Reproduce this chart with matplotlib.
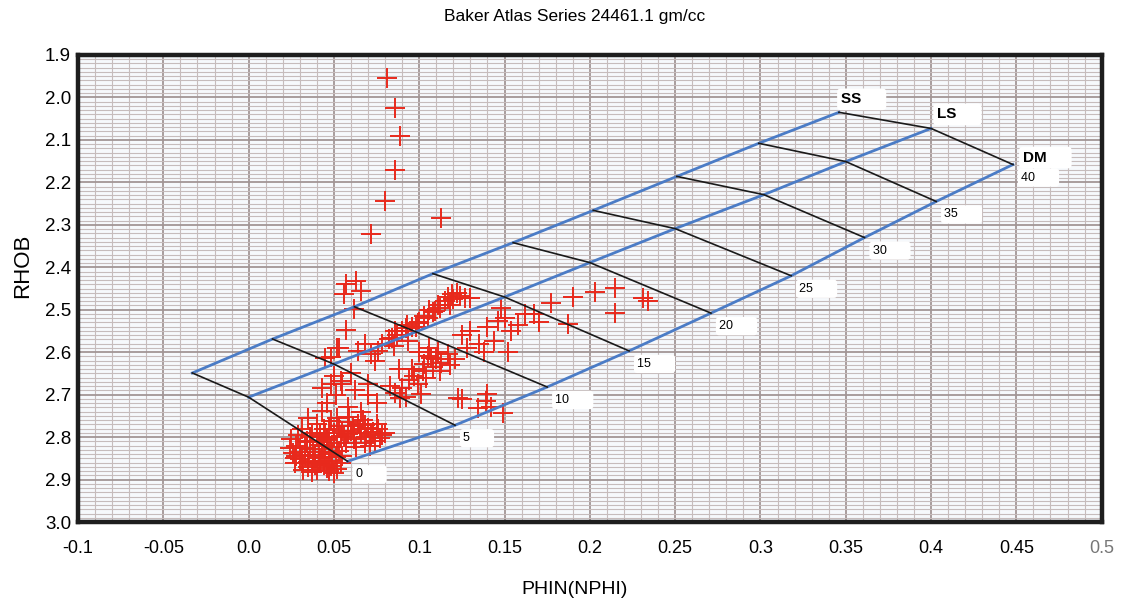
import matplotlib
matplotlib.use("Agg")
import matplotlib.pyplot as plt
from matplotlib.ticker import MultipleLocator

plt.rcParams["font.family"] = ["Liberation Sans", "DejaVu Sans"]

# Baker Atlas chart, fluid density 1.1 gm/cc
porosity = [0, 5, 10, 15, 20, 25, 30, 35, 40]
ss_nphi = [-0.033, 0.014, 0.062, 0.108, 0.155, 0.202, 0.251, 0.299, 0.346]
ss_rhob = [2.649, 2.569, 2.493, 2.415, 2.342, 2.266, 2.186, 2.108, 2.035]
ls_nphi = [0.000, 0.050, 0.098, 0.150, 0.200, 0.250, 0.302, 0.350, 0.400]
ls_rhob = [2.706, 2.628, 2.552, 2.470, 2.389, 2.309, 2.229, 2.151, 2.073]
dm_nphi = [0.058, 0.121, 0.175, 0.223, 0.271, 0.318, 0.361, 0.403, 0.448]
dm_rhob = [2.857, 2.772, 2.682, 2.597, 2.508, 2.420, 2.330, 2.245, 2.158]

# well log samples (NPHI, RHOB)
data_nphi = [
    # upper tail
    0.081, 0.086, 0.089, 0.086, 0.080, 0.072, 0.113,
    # left scatter above the chart
    0.057, 0.063, 0.056, 0.066, 0.062, 0.057, 0.052, 0.048,
    # dense lower-left cluster
    0.025, 0.028, 0.030, 0.027, 0.031, 0.034, 0.036, 0.033, 0.038, 0.035,
    0.040, 0.041, 0.043, 0.042, 0.044, 0.040, 0.046, 0.048, 0.047, 0.049,
    0.046, 0.050, 0.052, 0.053, 0.051, 0.054, 0.029, 0.032, 0.037, 0.045,
    0.026, 0.039, 0.044, 0.048, 0.036, 0.030, 0.042, 0.055, 0.050, 0.033,
    0.024, 0.027, 0.031, 0.035, 0.038, 0.041, 0.045, 0.049, 0.052, 0.043,
    0.037, 0.034, 0.028, 0.039, 0.047,
    # upper-right part of the cluster
    0.040, 0.044, 0.048, 0.050, 0.053, 0.056, 0.058, 0.060, 0.062, 0.064,
    0.066, 0.068, 0.070, 0.072, 0.074, 0.076, 0.078, 0.067, 0.071, 0.063,
    0.057, 0.046, 0.075, 0.059, 0.052, 0.069, 0.061, 0.055,
    0.042, 0.047, 0.054, 0.058, 0.065, 0.073, 0.077, 0.080, 0.062, 0.068,
    # tail above the cluster
    0.043, 0.051, 0.0545, 0.0626, 0.035, 0.043, 0.031, 0.046, 0.058, 0.066,
    0.050, 0.060, 0.070, 0.075, 0.045, 0.053, 0.054, 0.0485, 0.064, 0.074,
    0.070,
    # chain along the limestone line
    0.086, 0.092, 0.099, 0.109, 0.119, 0.115, 0.120, 0.124, 0.130, 0.118,
    0.105, 0.100, 0.096, 0.090, 0.087, 0.082, 0.078, 0.093, 0.108, 0.112,
    0.103, 0.085, 0.076, 0.072, 0.068, 0.127, 0.084, 0.0936,
    0.122, 0.117, 0.111, 0.106, 0.098,
    # middle clump
    0.100, 0.105, 0.110, 0.113, 0.108, 0.102, 0.097, 0.094, 0.099, 0.104,
    0.090, 0.086, 0.092, 0.117, 0.112, 0.118, 0.121, 0.106, 0.083, 0.088,
    0.107, 0.089, 0.101, 0.111, 0.096, 0.103,
    # right of the middle clump
    0.125, 0.130, 0.135, 0.140, 0.144, 0.146, 0.148, 0.154, 0.150, 0.128,
    0.138, 0.152, 0.158, 0.162, 0.167,
    # scattered to the right
    0.177, 0.190, 0.203, 0.2146, 0.2146, 0.231, 0.234, 0.187, 0.170,
    # lower right
    0.139, 0.125, 0.140, 0.1345, 0.149, 0.142, 0.123,
]
data_rhob = [
    1.954, 2.025, 2.091, 2.170, 2.245, 2.321, 2.285,
    2.440, 2.432, 2.462, 2.455, 2.498, 2.548, 2.590, 2.612,
    2.805, 2.820, 2.835, 2.850, 2.862, 2.812, 2.828, 2.845, 2.856, 2.870,
    2.800, 2.818, 2.834, 2.850, 2.866, 2.878, 2.806, 2.824, 2.840, 2.856,
    2.872, 2.885, 2.815, 2.832, 2.848, 2.862, 2.795, 2.878, 2.790, 2.790,
    2.838, 2.842, 2.822, 2.868, 2.800, 2.852, 2.862, 2.845, 2.800, 2.826,
    2.825, 2.862, 2.842, 2.858, 2.835, 2.860, 2.848, 2.835, 2.875, 2.812,
    2.882, 2.808, 2.845, 2.866, 2.880,
    2.770, 2.780, 2.762, 2.790, 2.775, 2.800, 2.765, 2.785, 2.805, 2.770,
    2.790, 2.815, 2.778, 2.795, 2.808, 2.782, 2.795, 2.760, 2.822, 2.823,
    2.815, 2.805, 2.770, 2.752, 2.755, 2.800, 2.775, 2.785,
    2.795, 2.780, 2.798, 2.792, 2.780, 2.788, 2.802, 2.790, 2.790, 2.772,
    2.685, 2.700, 2.675, 2.690, 2.756, 2.739, 2.780, 2.720, 2.730, 2.740,
    2.655, 2.650, 2.700, 2.720, 2.614, 2.590, 2.668, 2.675, 2.597, 2.621,
    2.675,
    2.550, 2.543, 2.531, 2.503, 2.463, 2.480, 2.475, 2.468, 2.472, 2.490,
    2.520, 2.530, 2.540, 2.550, 2.560, 2.570, 2.580, 2.535, 2.505, 2.495,
    2.515, 2.585, 2.598, 2.605, 2.580, 2.472, 2.566, 2.574,
    2.460, 2.470, 2.488, 2.500, 2.540,
    2.600, 2.610, 2.615, 2.625, 2.635, 2.645, 2.655, 2.665, 2.675, 2.660,
    2.685, 2.695, 2.705, 2.605, 2.645, 2.630, 2.615, 2.590, 2.680, 2.640,
    2.614, 2.708, 2.699, 2.600, 2.640, 2.628,
    2.560, 2.550, 2.580, 2.540, 2.574, 2.527, 2.496, 2.550, 2.520, 2.590,
    2.600, 2.600, 2.535, 2.510, 2.510,
    2.484, 2.470, 2.458, 2.448, 2.508, 2.472, 2.479, 2.534, 2.530,
    2.716, 2.711, 2.699, 2.732, 2.744, 2.730, 2.708,
]

x_ticks = [-0.1, -0.05, 0.0, 0.05, 0.1, 0.15, 0.2, 0.25, 0.3, 0.35, 0.4, 0.45, 0.5]
x_labels = ["-0.1", "-0.05", "0.0", "0.05", "0.1", "0.15", "0.2", "0.25",
            "0.3", "0.35", "0.4", "0.45", "0.5"]
y_ticks = [1.9, 2.0, 2.1, 2.2, 2.3, 2.4, 2.5, 2.6, 2.7, 2.8, 2.9, 3.0]
y_labels = ["1.9", "2.0", "2.1", "2.2", "2.3", "2.4", "2.5", "2.6", "2.7",
            "2.8", "2.9", "3.0"]

fig = plt.figure(figsize=(11.23, 6.03), dpi=100)
ax = fig.add_axes([0.0695, 0.1343, 0.9115, 0.7745])
ax.set_facecolor("#f6f9fc")

ax.set_xlim(-0.1, 0.5)
ax.set_ylim(3.0, 1.9)
ax.set_xticks(x_ticks)
ax.set_xticklabels(x_labels, fontsize=13)
ax.set_yticks(y_ticks)
ax.set_yticklabels(y_labels, fontsize=13.5)
ax.get_xticklabels()[-1].set_color("#777777")
ax.xaxis.set_minor_locator(MultipleLocator(0.01))
ax.yaxis.set_minor_locator(MultipleLocator(0.01))
ax.tick_params(which="both", length=0)
ax.tick_params(axis="x", pad=13)
ax.tick_params(axis="y", pad=5)

ax.grid(which="major", color="#a29696", lw=1.3, zorder=0)
ax.grid(which="minor", color="#c6bcbc", lw=0.8, zorder=0)
ax.set_axisbelow(True)
for sp in ax.spines.values():
    sp.set_linewidth(3.2)
    sp.set_color("#1e1e1e")

# samples
ax.plot(data_nphi, data_rhob, ls="none", marker="+", ms=15, mew=1.4,
        color="#e8291c", zorder=2)

# lithology lines
for xs, ys in [(ss_nphi, ss_rhob), (ls_nphi, ls_rhob), (dm_nphi, dm_rhob)]:
    ax.plot(xs, ys, color="#4b7cc6", lw=2, zorder=3)

# porosity connecting lines
for i in range(len(porosity)):
    ax.plot([ss_nphi[i], ls_nphi[i], dm_nphi[i]],
            [ss_rhob[i], ls_rhob[i], dm_rhob[i]],
            color="#1a1a1a", lw=1.2, zorder=3)

box = dict(boxstyle="round,pad=0.25", fc="white", ec="none")
for i, p in enumerate(porosity):
    ax.annotate(f"{p}      ", (dm_nphi[i], dm_rhob[i]), xytext=(8, -13),
                textcoords="offset pixels", ha="left", va="center",
                fontsize=9, bbox=box, zorder=4)

for name, x0, y0, off in [("SS", ss_nphi[-1], ss_rhob[-1], (2, 13)),
                          ("LS", ls_nphi[-1], ls_rhob[-1], (6, 14)),
                          ("DM", dm_nphi[-1], dm_rhob[-1], (10, 7))]:
    ax.annotate(f"{name}     ", (x0, y0), xytext=off, textcoords="offset pixels",
                ha="left", va="center", fontsize=11, fontweight="bold",
                bbox=box, zorder=4)

fig.text(0.512, 0.972, "Baker Atlas Series 24461.1 gm/cc", ha="center",
         va="center", fontsize=12.5)
fig.text(0.512, 0.022, "PHIN(NPHI)", ha="center", va="center", fontsize=14)
fig.text(0.02, 0.56, "RHOB", ha="center", va="center", rotation=90,
         fontsize=16)

fig.savefig("out.png", dpi=100)
